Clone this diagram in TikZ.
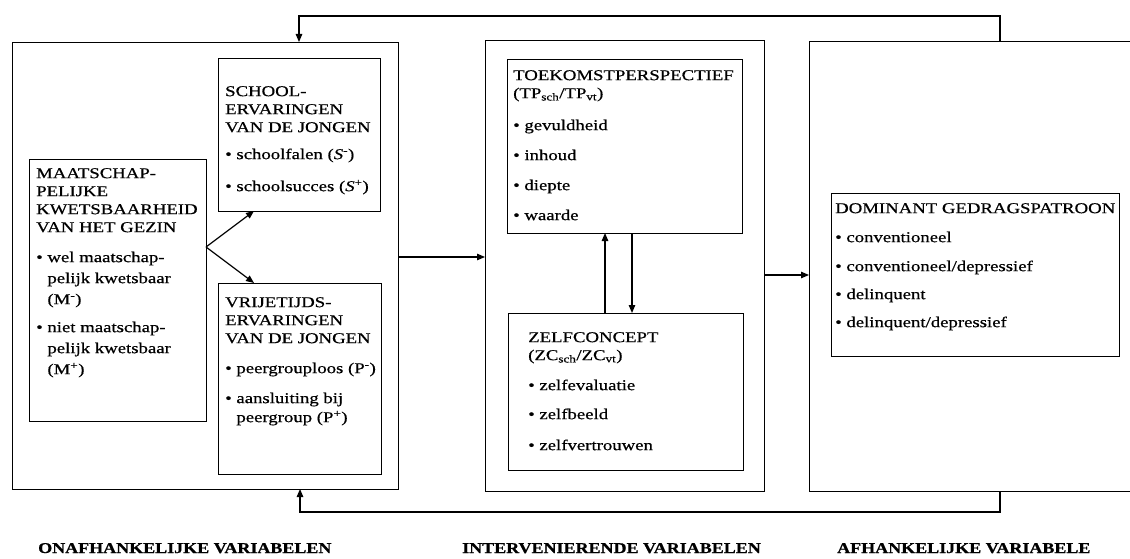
\documentclass[tikz,border=0pt]{standalone}
\usepackage{fontspec}
\setmainfont{Liberation Serif}[FakeStretch=1.25,FakeBold=0.6]
\newfontfamily\labfont{Liberation Serif}[FakeStretch=1.2,FakeBold=0.8]
\usetikzlibrary{arrows.meta}
\newcommand\itm{\makebox[0.75em][l]{•}}
\newcommand\cnt{\hspace*{0.75em}}
\begin{document}
\begin{tikzpicture}[x=1pt,y=-1pt,
  box/.style={draw, line width=1.3pt, inner sep=0pt, anchor=north west},
  txt/.style={anchor=north west, align=left, inner sep=0pt, font=\fontsize{15}{18}\selectfont},
  lab/.style={anchor=base west, inner sep=0pt, font=\labfont\bfseries\fontsize{15}{18}\selectfont},
  arr/.style={-{Triangle[length=8pt,width=6.5pt]}, line width=1.2pt}]
\useasboundingbox (0,0) rectangle (1130,559);

% outer boxes
\node[box, minimum width=386pt, minimum height=447pt] (ona) at (12,42) {};
\node[box, minimum width=279pt, minimum height=451pt] (int) at (485,40) {};
\node[box, minimum width=330pt, minimum height=450pt] (afh) at (809,41) {};

% inner boxes
\node[box, minimum width=162pt, minimum height=153pt] (sch) at (218,58) {};
\node[box, minimum width=177pt, minimum height=262pt] (maa) at (29,159) {};
\node[box, minimum width=163pt, minimum height=191pt] (vrij) at (218,283) {};
\node[box, minimum width=235pt, minimum height=174pt] (tp) at (507,59) {};
\node[box, minimum width=235pt, minimum height=157pt] (zc) at (508,313) {};
\node[box, minimum width=288pt, minimum height=163pt] (dom) at (831,193) {};

% texts
\node[txt] (scht) at (225,86) {SCHOOL-\\ERVARINGEN\\VAN DE JONGEN\\[9pt]
  \itm schoolfalen (\textit{S}\textsuperscript{-})\\[14pt]
  \itm schoolsucces (\textit{S}\textsuperscript{+})};
\node[txt] (maat) at (36,168) {MAATSCHAP-\\PELIJKE\\KWETSBAARHEID\\VAN HET GEZIN\\[12pt]
  \itm wel maatschap-\\[3pt]\cnt pelijk kwetsbaar\\[3pt]\cnt (M\textsuperscript{-})\\[10pt]
  \itm niet maatschap-\\[3pt]\cnt pelijk kwetsbaar\\[3pt]\cnt (M\textsuperscript{+})};
\node[txt] (vrijt) at (225,297) {VRIJETIJDS-\\ERVARINGEN\\VAN DE JONGEN\\[12pt]
  \itm peergrouploos (P\textsuperscript{-})\\[12pt]
  \itm aansluiting bij\\[1pt]\cnt peergroup (P\textsuperscript{+})};
\node[txt] (tpt) at (513,70) {TOEKOMSTPERSPECTIEF\\
  (TP\textsubscript{sch}/TP\textsubscript{vt})\\[14pt]
  \itm gevuldheid\\[12pt]\itm inhoud\\[12pt]\itm diepte\\[12pt]\itm waarde};
\node[txt] (zct) at (528,332) {ZELFCONCEPT\\
  (ZC\textsubscript{sch}/ZC\textsubscript{vt})\\[12pt]
  \itm zelfevaluatie\\[11pt]\itm zelfbeeld\\[13pt]\itm zelfvertrouwen};
\node[txt] (domt) at (835,203) {DOMINANT GEDRAGSPATROON\\[11pt]
  \itm conventioneel\\[11pt]\itm conventioneel/depressief\\[10pt]
  \itm delinquent\\[10pt]\itm delinquent/depressief};

% bottom labels
\node[lab] (l1) at (38,553) {ONAFHANKELIJKE VARIABELEN};
\node[lab] (l2) at (462,553) {INTERVENIERENDE VARIABELEN};
\node[lab] (l3) at (837,553) {AFHANKELIJKE VARIABELE};

% connector points
\coordinate (mo) at (206,247);
\coordinate (si) at (254,211);
\coordinate (vi) at (254,283);
\coordinate (oo) at (398,257);
\coordinate (ii) at (485,257);
\coordinate (tu) at (605,233);
\coordinate (zu) at (605,313);
\coordinate (td) at (632,233);
\coordinate (zd) at (632,313);
\coordinate (io) at (764,275);
\coordinate (ai) at (809,275);
\coordinate (fa) at (1000,41);
\coordinate (fb) at (299,42);
\coordinate (ga) at (1000,491);
\coordinate (gb) at (300,489);

\draw[arr] (mo) -- (si);
\draw[arr] (mo) -- (vi);
\draw[arr] (oo) -- (ii);
\draw[arr] (zu) -- (tu);
\draw[arr] (td) -- (zd);
\draw[arr] (io) -- (ai);
\draw[arr] (fa) -- (1000,16) -| (fb);
\draw[arr] (ga) -- (1000,512) -| (gb);
\end{tikzpicture}
\end{document}
